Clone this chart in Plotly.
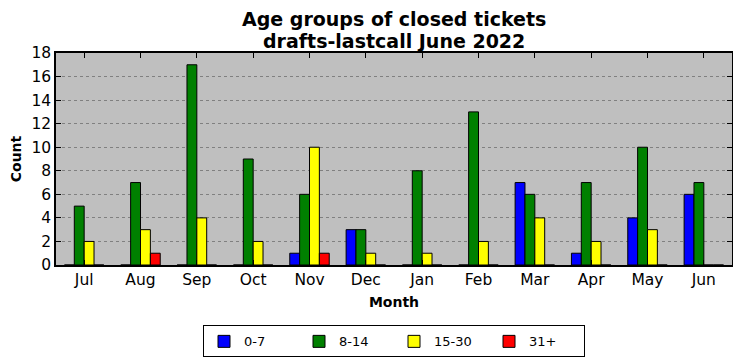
import plotly.graph_objects as go

months = ["Jul", "Aug", "Sep", "Oct", "Nov", "Dec", "Jan", "Feb", "Mar", "Apr", "May", "Jun"]
age_0_7 = [0, 0, 0, 0, 1, 3, 0, 0, 7, 1, 4, 6]
age_8_14 = [5, 7, 17, 9, 6, 3, 8, 13, 6, 7, 10, 7]
age_15_30 = [2, 3, 4, 2, 10, 1, 1, 2, 4, 2, 3, 0]
age_31_plus = [0, 1, 0, 0, 1, 0, 0, 0, 0, 0, 0, 0]

series = [("0-7", age_0_7, "#0000ff"), ("8-14", age_8_14, "#008000"),
          ("15-30", age_15_30, "#ffff00"), ("31+", age_31_plus, "#ff0000")]

FONT = "DejaVu Sans"
fig = go.Figure()
for name, vals, col in series:
    fig.add_trace(go.Bar(x=months, y=vals, name=name, marker=dict(color=col, line=dict(color="black", width=1))))

# page body has an 8px default margin, so the figure is sized to fit the window
fig.update_layout(
    width=733, height=353,
    margin=dict(l=48, r=9, t=45, b=96, autoexpand=False),
    paper_bgcolor="white", plot_bgcolor="#bfbfbf",
    barmode="group", bargap=0.3, bargroupgap=0,
    font=dict(family=FONT, color="black"),
    legend=dict(orientation="h", x=0.5, xanchor="center", y=-0.285, yanchor="top",
                bordercolor="black", borderwidth=1, font=dict(size=13, family=FONT),
                traceorder="normal", entrywidth=50, entrywidthmode="pixels"),
    showlegend=True,
    annotations=[
        dict(text="<b>Age groups of closed tickets</b>", xref="paper", yref="paper",
             x=0.5, y=1, yshift=34, xanchor="center", yanchor="middle", showarrow=False,
             font=dict(size=19, family=FONT)),
        dict(text="<b>drafts-lastcall June 2022</b>", xref="paper", yref="paper",
             x=0.5, y=1, yshift=12, xanchor="center", yanchor="middle", showarrow=False,
             font=dict(size=19, family=FONT)),
    ],
)
fig.update_xaxes(
    title=dict(text="<b>Month</b>", font=dict(size=14), standoff=9),
    tickfont=dict(size=15.5), showline=True, linecolor="black", linewidth=1.5, mirror="ticks",
    ticks="inside", ticklen=5, tickcolor="black", showgrid=False, range=[-0.5, 11.5],
    automargin=False,
)
fig.update_yaxes(
    title=dict(text="<b>Count</b>", font=dict(size=14), standoff=8),
    tickfont=dict(size=15.5), showline=True, linecolor="black", linewidth=1.5, mirror="ticks",
    ticks="inside", ticklen=5, tickcolor="black", range=[0, 18], dtick=2,
    showgrid=True, gridcolor="#808080", griddash="dot", gridwidth=1, zeroline=False,
    automargin=False,
)
fig.write_html("out.html")
